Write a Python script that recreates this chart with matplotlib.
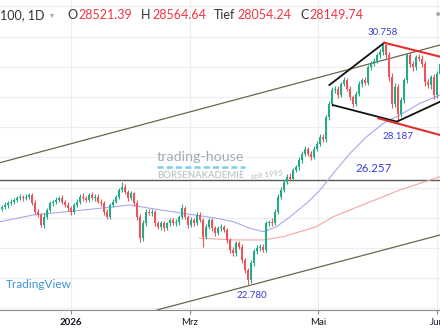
import matplotlib.pyplot as plt
from matplotlib.lines import Line2D

plt.rcParams['font.family'] = ['Lato', 'DejaVu Sans']

# daily closes (bar index 0 = late Nov 2025), open = previous close
first_open = 25300
closes = [25370, 25430, 25490, 25540, 25590, 25650, 25700, 25660, 25700, 25750,
          25490, 25210, 25100, 24770, 25040, 25260, 25480, 25540, 25590, 25650,
          25540, 25430, 25320, 25210, 25430, 25540, 25700, 25650, 25590, 25760,
          25650, 25700, 25540, 25490, 25210, 25040, 25430, 25540, 25700, 25920,
          26030, 25870, 25650, 25810, 25490, 25040, 24330, 24820, 25210, 25150,
          25210, 24820, 24710, 24820, 24650, 24820, 24930, 24820, 24870, 25040,
          25320, 25040, 24770, 24930, 24820, 25100, 24930, 24380, 24710, 24930,
          24650, 24490, 24650, 24710, 24600, 24270, 23940, 23830, 24160, 24050,
          23610, 23280, 22950, 23500, 23890, 24000, 24050, 23940, 24820, 24870,
          24820, 25210, 25700, 25920, 26190, 26360, 26300, 26580, 26690, 26910,
          27130, 27290, 27130, 27020, 27290, 27460, 27680, 27600, 28340, 28780,
          29220, 29280, 29060, 29440, 29550, 29280, 29000, 28780, 29110, 29440,
          29550, 29480, 29990, 30100, 30210, 30380, 30490, 30710, 30380, 29660,
          28780, 29330, 28450, 28890, 29550, 30380, 30100, 29990, 30320, 30270,
          30100, 29500, 29390, 29660, 29060, 29770, 30100]
upper_wick = [60, 80, 70, 90, 60, 80, 100, 70, 90, 60,
              80, 90, 70, 60, 110, 70, 80, 60, 90, 70,
              100, 60, 80, 90, 70, 80, 90, 110, 60, 70,
              90, 80, 100, 70, 60, 80, 70, 90, 60, 80,
              160, 90, 70, 80, 60, 90, 100, 120, 80, 70,
              90, 60, 80, 70, 90, 60, 80, 70, 90, 60,
              130, 80, 70, 90, 60, 100, 80, 70, 90, 60,
              80, 70, 90, 100, 60, 80, 70, 90, 60, 80,
              90, 70, 60, 110, 80, 90, 70, 80, 90, 70,
              120, 80, 90, 100, 80, 90, 110, 80, 70, 90,
              80, 100, 70, 90, 80, 70, 90, 100, 80, 90,
              110, 80, 90, 70, 100, 80, 90, 70, 80, 90,
              70, 100, 80, 90, 70, 80, 90, 48, 100, 120,
              150, 130, 100, 120, 90, 80, 110, 90, 80, 100,
              120, 90, 100, 80, 120, 90, 80]
lower_wick = [80, 60, 90, 70, 80, 60, 70, 90, 60, 80,
              70, 90, 80, 60, 100, 80, 60, 90, 70, 80,
              90, 70, 80, 100, 80, 60, 70, 90, 80, 60,
              70, 90, 60, 80, 100, 80, 90, 70, 60, 80,
              70, 90, 80, 60, 100, 120, 120, 90, 80, 70,
              80, 90, 70, 100, 80, 60, 90, 70, 80, 90,
              70, 90, 100, 80, 90, 70, 80, 330, 90, 70,
              80, 100, 70, 90, 80, 110, 90, 100, 80, 90,
              100, 120, 170, 90, 80, 70, 90, 80, 60, 90,
              80, 70, 90, 80, 70, 60, 90, 80, 70, 90,
              80, 70, 90, 100, 80, 90, 70, 80, 100, 90,
              80, 90, 100, 70, 80, 90, 100, 120, 90, 80,
              90, 80, 70, 90, 80, 70, 90, 80, 100, 130,
              150, 120, 263, 110, 100, 90, 100, 110, 90, 80,
              100, 120, 90, 110, 130, 90, 80]

# moving averages (read at a few points)
ma50_bars = [-0.5, 10.6, 21.7, 32.8, 42.8, 49.5, 60.6, 71.7, 77.3, 82.8, 87.3,
             91.7, 96.2, 101.7, 106.2, 110.6, 116.2, 121.7, 127.3, 132.8, 139.5, 146.2]
ma50_vals = [24874, 25096, 25205, 25318, 25427, 25318, 25152, 24987, 24874, 24655, 24543,
             24710, 25040, 25483, 25924, 26477, 27139, 27689, 28132, 28407, 28795, 29070]
ma200_bars = [66.0, 77.3, 87.3, 94.0, 99.5, 105.0, 110.6, 121.7, 132.8, 146.2]
ma200_vals = [24330, 24270, 24270, 24380, 24543, 24709, 25040, 25483, 25924, 26364]

# drawings
chan_up_bars, chan_up_vals = [-0.5, 146.2], [26828, 30725]
chan_low_bars, chan_low_vals = [51.8, 146.2], [21950, 24434]
level = 26257
black_lines = [([109.3, 127.6], [29400, 30800]),
               ([110.4, 131.8], [28738, 28187]),
               ([131.8, 146.2], [28187, 28848])]
red_lines = [([127.6, 146.2], [30800, 30338]),
             ([125.6, 146.2], [28298, 27745])]
label_bars = [127, 132, 82]
label_vals = [30758, 28187, 22780]

tick_bars = [23.2, 62.8, 105.5, 145.2]
tick_labels = ['2026', 'Mrz', 'Mai', 'Jun']

green = '#22ab86'
red = '#f0525a'
lab_blue = '#3b3bd6'

W, H = 440, 330
fig = plt.figure(figsize=(4.4, 3.3), dpi=100)
ax = fig.add_axes([0, 20 / H, 1, 310 / H])
ax.set_xlim(-0.5, -0.5 + W / 3)
ax.set_ylim(21950, 32215)

for lv in range(22000, 32001, 1000):
    ax.axhline(lv, color='#eceef1', lw=0.8, zorder=0)
for tb in tick_bars:
    ax.axvline(tb, color='#eceef1', lw=0.8, zorder=0)

ax.plot(chan_up_bars, chan_up_vals, color='#66684c', lw=0.9, zorder=2)
ax.plot(chan_low_bars, chan_low_vals, color='#5f6b4c', lw=0.9, zorder=2)
ax.axhline(level, color='#5a5a5a', lw=1.0, zorder=2)

ax.plot(ma50_bars, ma50_vals, color='#a8a8ec', lw=0.8, zorder=3)
ax.plot(ma200_bars, ma200_vals, color='#f2a6a6', lw=0.8, zorder=3)

opens = [first_open] + closes[:-1]
idx = list(range(len(closes)))
cols = [green if c >= o else red for o, c in zip(opens, closes)]
highs = [max(o, c) + w for o, c, w in zip(opens, closes, upper_wick)]
lows = [min(o, c) - w for o, c, w in zip(opens, closes, lower_wick)]
ax.vlines(idx, lows, highs, colors=cols, lw=0.8, zorder=4)
ax.bar(idx, [max(abs(c - o), 25) for o, c in zip(opens, closes)],
       bottom=[min(o, c) for o, c in zip(opens, closes)],
       width=0.66, color=cols, linewidth=0, zorder=5)

for xs, ys in black_lines:
    ax.plot(xs, ys, color='#111111', lw=1.3, zorder=6)
for xs, ys in red_lines:
    ax.plot(xs, ys, color='#e0302f', lw=1.5, zorder=6)

offs = [(0, 4.7), (0, -7.2), (3.2, -4.7)]
for b, v, (dx, dy) in zip(label_bars, label_vals, offs):
    ax.annotate(f'{v / 1000:.3f}', (b, v), xytext=(dx, dy), textcoords='offset points',
                ha='center', va='bottom' if dy > 0 else 'top', color=lab_blue, fontsize=7, zorder=7)
ax.annotate(f'{level / 1000:.3f}', (124, level), xytext=(0, 4.3), textcoords='offset points',
            ha='center', va='bottom', color=lab_blue, fontsize=8.3, zorder=7)

for s in ['top', 'left', 'right']:
    ax.spines[s].set_visible(False)
ax.spines['bottom'].set_color('#8a8a8a')
ax.spines['bottom'].set_linewidth(0.8)
ax.set_yticks([])
ax.set_xticks(tick_bars)
ax.set_xticklabels(tick_labels, fontsize=7, color='#131722')
ax.get_xticklabels()[0].set_fontweight('bold')
ax.tick_params(axis='x', length=3, color='#8a8a8a', pad=3)

# watermark and header, in pixel positions
def px(x, y):
    return x / W, 1 - y / H

fig.text(*px(157, 157), 'trading-house', fontsize=10.3, color='#a3abb3', va='center', zorder=1)
fig.add_artist(Line2D([157 / W, 245 / W], [1 - 167 / H] * 2, color='#80ccee', lw=1.8,
                      dashes=(2.4, 1.3), zorder=1))
fig.text(*px(157, 176), 'BÖRSENAKADEMIE', fontsize=6.9, color='#b3bac0', va='center', zorder=1)
fig.text(*px(250, 175), 'seit 1995', fontsize=5.8, style='italic', color='#b3bac0',
         va='center', rotation=6, zorder=1)
fig.text(*px(6, 285), 'TradingView', fontsize=8.5, color='#3d92dc', va='center')

header = [(0, '100, 1D', '#333333'), (50, '▾', '#aaaaaa'),
          (67, 'O', '#333333'), (78, '28521.39', '#f23645'),
          (141, 'H', '#333333'), (152, '28564.64', '#f23645'),
          (214, 'Tief', '#333333'), (237, '28054.24', '#f23645'),
          (300, 'C', '#333333'), (309, '28149.74', '#f23645')]
for x, t, c in header:
    fig.text(*px(x, 15), t, fontsize=9 if t != '▾' else 6, color=c, va='center')
fig.text(*px(435, 15), '•', fontsize=8, color='#aaaaaa', va='center')

fig.savefig('out.png', dpi=100)
